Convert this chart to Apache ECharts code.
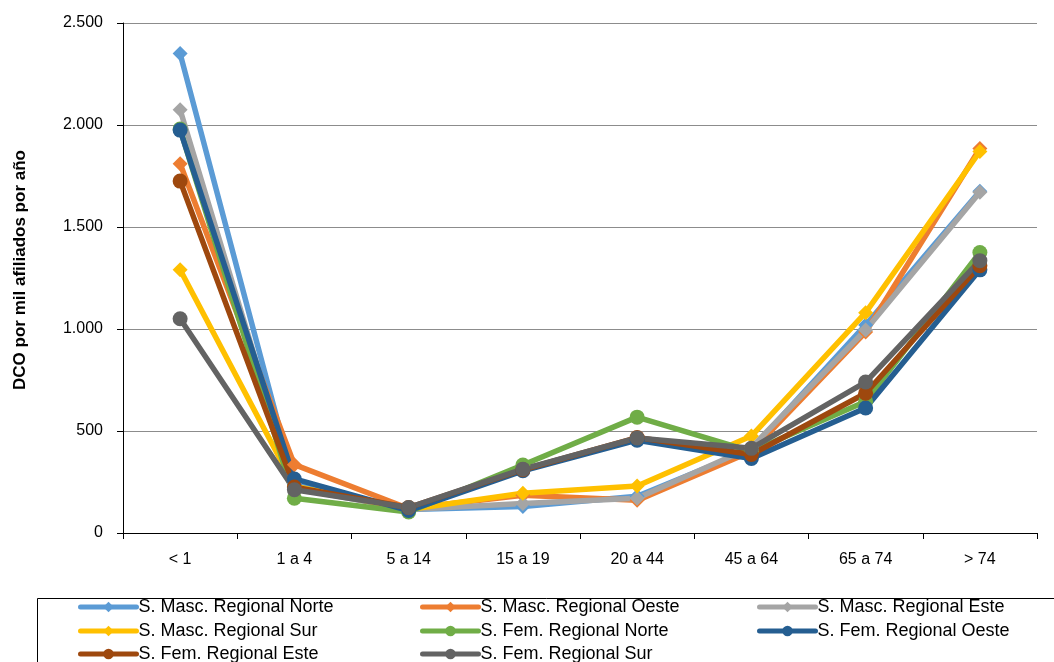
<!DOCTYPE html>
<html>
<head>
<meta charset="utf-8">
<script src="https://cdn.jsdelivr.net/npm/echarts@6/dist/echarts.min.js"></script>
<style>
  html, body { margin: 0; padding: 0; background: #fff; }
  #chart { width: 1054px; height: 662px; }
</style>
</head>
<body>
<div id="chart"></div>
<script>
// Age groups on the category axis
const categories = ['< 1', '1 a 4', '5 a 14', '15 a 19', '20 a 44', '45 a 64', '65 a 74', '> 74'];

// DCO per thousand members per year, by sex and region
const mascNorte = [2350, 240, 115, 130, 180, 410, 1020, 1675];
const mascOeste = [1810, 335, 120, 185, 160, 400, 985, 1885];
const mascEste  = [2075, 220, 115, 145, 170, 420, 995, 1670];
const mascSur   = [1290, 230, 115, 195, 230, 475, 1080, 1870];
const femNorte  = [1980, 170, 103, 333, 568, 400, 645, 1375];
const femOeste  = [1975, 265, 110, 305, 455, 365, 613, 1290];
const femEste   = [1725, 225, 125, 310, 468, 385, 685, 1310];
const femSur    = [1050, 212, 125, 313, 466, 415, 740, 1335];

const yTicks = [0, 500, 1000, 1500, 2000, 2500];

const FONT = 'Liberation Sans';

function fmtThousands(v) {
  return String(v).replace(/\B(?=(\d{3})+(?!\d))/g, '.');
}

function makeSeries(name, data, color, symbol, size) {
  return {
    name: name,
    type: 'line',
    data: data,
    symbol: symbol,
    symbolSize: size,
    lineStyle: { color: color, width: 5.5, join: 'round', cap: 'round' },
    itemStyle: { color: color },
    emphasis: { disabled: true }
  };
}

const seriesList = [
  makeSeries('S. Masc. Regional Norte', mascNorte, '#5B9BD5', 'diamond', 15),
  makeSeries('S. Masc. Regional Oeste', mascOeste, '#ED7D31', 'diamond', 15),
  makeSeries('S. Masc. Regional Este',  mascEste,  '#A5A5A5', 'diamond', 15),
  makeSeries('S. Masc. Regional Sur',   mascSur,   '#FFC000', 'diamond', 15),
  makeSeries('S. Fem. Regional Norte',  femNorte,  '#70AD47', 'circle', 15),
  makeSeries('S. Fem. Regional Oeste',  femOeste,  '#255E91', 'circle', 15),
  makeSeries('S. Fem. Regional Este',   femEste,   '#9E480E', 'circle', 15),
  makeSeries('S. Fem. Regional Sur',    femSur,    '#636363', 'circle', 15)
];

// Legend laid out as a 3-column grid: one legend component per entry
const legendCols = [78, 420, 757];
const legendRows = [607, 631, 654];
const legendGrid = [
  ['S. Masc. Regional Norte', 0, 0],
  ['S. Masc. Regional Oeste', 1, 0],
  ['S. Masc. Regional Este',  2, 0],
  ['S. Masc. Regional Sur',   0, 1],
  ['S. Fem. Regional Norte',  1, 1],
  ['S. Fem. Regional Oeste',  2, 1],
  ['S. Fem. Regional Este',   0, 2],
  ['S. Fem. Regional Sur',    1, 2]
];

const legends = legendGrid.map(function (e) {
  return {
    data: [e[0]],
    left: legendCols[e[1]],
    top: legendRows[e[2]] - 10,
    orient: 'horizontal',
    itemWidth: 56,
    itemHeight: 13,
    padding: 0,
    selectedMode: false,
    lineStyle: { width: 5 },
    textStyle: { fontFamily: FONT, fontSize: 18, color: '#000', lineHeight: 20, padding: [0, 0, 0, -3] }
  };
});

const chart = echarts.init(document.getElementById('chart'), null, { renderer: 'canvas' });

chart.setOption({
  animation: false,
  backgroundColor: '#fff',
  grid: { left: 123, right: 17, top: 23, bottom: 129, containLabel: false },
  xAxis: {
    type: 'category',
    data: categories,
    boundaryGap: true,
    axisLine: { lineStyle: { color: '#000', width: 1 } },
    axisTick: { show: true, alignWithLabel: false, length: 6, lineStyle: { color: '#000' } },
    axisLabel: { color: '#000', fontFamily: FONT, fontSize: 16, margin: 19 },
    splitLine: { show: false }
  },
  yAxis: {
    type: 'value',
    min: yTicks[0],
    max: yTicks[yTicks.length - 1],
    interval: 500,
    axisLine: { show: true, lineStyle: { color: '#000', width: 1 } },
    axisTick: { show: true, length: 6, lineStyle: { color: '#000' } },
    axisLabel: { color: '#000', fontFamily: FONT, fontSize: 16, margin: 20, formatter: fmtThousands },
    splitLine: { show: true, lineStyle: { color: '#8C8C8C', width: 1 } }
  },
  legend: legends,
  graphic: [
    {
      type: 'rect',
      left: 35, top: 596,
      shape: { width: 1040, height: 80 },
      style: { fill: 'none', stroke: '#000', lineWidth: 1 },
      silent: true,
      z: -1
    },
    {
      type: 'text',
      x: 20, y: 270,
      rotation: Math.PI / 2,
      style: {
        text: 'DCO por mil afiliados por año',
        fontFamily: FONT,
        fontSize: 17,
        fontWeight: 'bold',
        fill: '#000',
        align: 'center',
        verticalAlign: 'middle'
      },
      silent: true
    }
  ],
  series: seriesList
});
</script>
</body>
</html>
